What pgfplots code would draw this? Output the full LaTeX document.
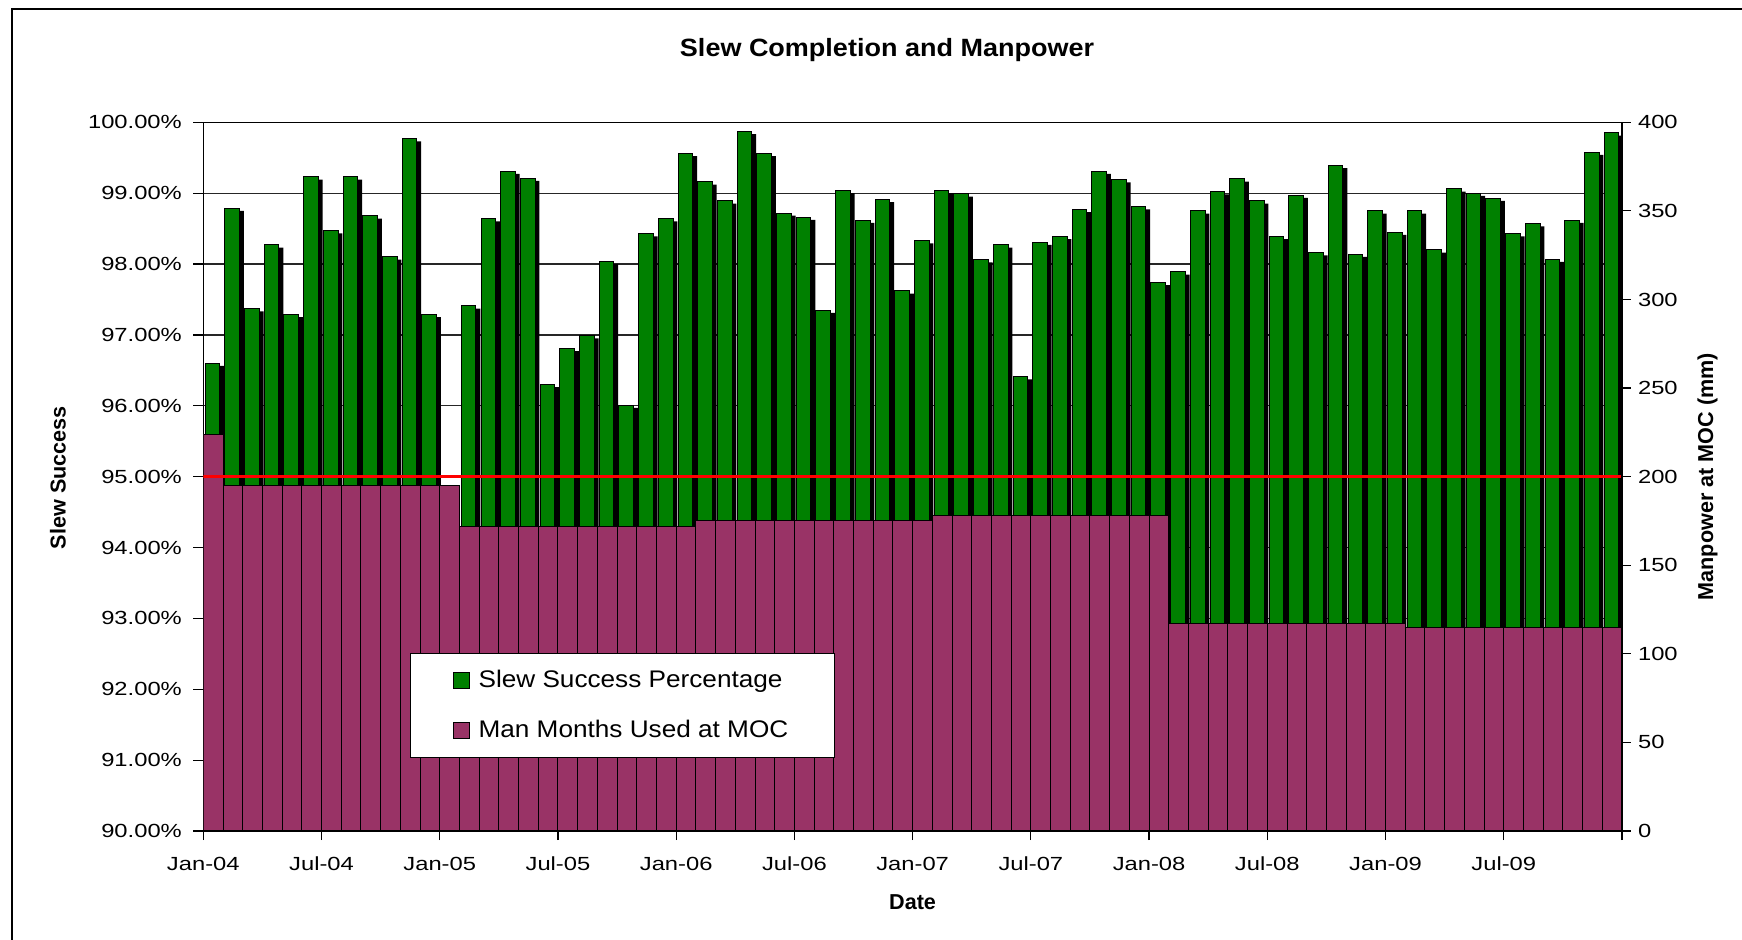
\documentclass[border=0pt]{standalone}
\usepackage{fontspec}
\setmainfont{Liberation Sans}
\newfontfamily\tickfont{Liberation Sans}[FakeStretch=1.25]
\newfontfamily\legfont{Liberation Sans}[FakeStretch=1.09]
\newfontfamily\titlefont{Liberation Sans}[FakeStretch=1.08]
\usepackage{pgfplots}
\usepackage{pgfplotstable}
\pgfplotsset{compat=1.18}
\usetikzlibrary{shadows}
\definecolor{slewgreen}{RGB}{0,128,0}
\definecolor{mmplum}{RGB}{153,51,102}

\pgfplotstableread{
x y
0.5 96.60
1.5 98.79
2.5 97.37
3.5 98.27
4.5 97.29
5.5 99.23
6.5 98.47
7.5 99.23
8.5 98.68
9.5 98.10
10.5 99.77
11.5 97.29
13.5 97.41
14.5 98.64
15.5 99.31
16.5 99.21
17.5 96.30
18.5 96.81
19.5 96.99
20.5 98.04
21.5 96.01
22.5 98.43
23.5 98.64
24.5 99.56
25.5 99.16
26.5 98.89
27.5 99.87
28.5 99.56
29.5 98.72
30.5 98.66
31.5 97.35
32.5 99.04
33.5 98.62
34.5 98.91
35.5 97.62
36.5 98.33
37.5 99.04
38.5 98.99
39.5 98.06
40.5 98.27
41.5 96.41
42.5 98.31
43.5 98.39
44.5 98.77
45.5 99.31
46.5 99.19
47.5 98.81
48.5 97.74
49.5 97.89
50.5 98.75
51.5 99.02
52.5 99.20
53.5 98.89
54.5 98.39
55.5 98.97
56.5 98.16
57.5 99.39
58.5 98.14
59.5 98.75
60.5 98.45
61.5 98.75
62.5 98.20
63.5 99.06
64.5 99.00
65.5 98.93
66.5 98.43
67.5 98.57
68.5 98.07
69.5 98.62
70.5 99.58
71.5 99.85
}\slewdata

\pgfplotstableread{
x y
0.5 224
1.5 195
2.5 195
3.5 195
4.5 195
5.5 195
6.5 195
7.5 195
8.5 195
9.5 195
10.5 195
11.5 195
12.5 195
13.5 172
14.5 172
15.5 172
16.5 172
17.5 172
18.5 172
19.5 172
20.5 172
21.5 172
22.5 172
23.5 172
24.5 172
25.5 175
26.5 175
27.5 175
28.5 175
29.5 175
30.5 175
31.5 175
32.5 175
33.5 175
34.5 175
35.5 175
36.5 175
37.5 178
38.5 178
39.5 178
40.5 178
41.5 178
42.5 178
43.5 178
44.5 178
45.5 178
46.5 178
47.5 178
48.5 178
49.5 117
50.5 117
51.5 117
52.5 117
53.5 117
54.5 117
55.5 117
56.5 117
57.5 117
58.5 117
59.5 117
60.5 117
61.5 115
62.5 115
63.5 115
64.5 115
65.5 115
66.5 115
67.5 115
68.5 115
69.5 115
70.5 115
71.5 115
}\mandata

\begin{document}
\begin{tikzpicture}
\useasboundingbox (0,0) rectangle (871pt,469.5pt);
\draw[line width=1pt] (6pt,-5pt) -- (6pt,464.8pt) -- (880pt,464.8pt);

\begin{axis}[
  scale only axis, width=709.35pt, height=354.35pt,
  at={(101.65pt,54pt)}, anchor=south west,
  xmin=0, xmax=72, ymin=90, ymax=100,
  enlargelimits=false,
  xtick=\empty,
  ytick={90,91,92,93,94,95,96,97,98,99,100},
  yticklabels={90.00\%,91.00\%,92.00\%,93.00\%,94.00\%,95.00\%,96.00\%,97.00\%,98.00\%,99.00\%,100.00\%},
  ytick pos=left,
  tick align=outside, major tick length=5pt,
  ymajorgrids, grid style={black!85, line width=0.6pt},
  axis line style={black, line width=0.6pt},
  tick style={black, line width=0.6pt},
  /pgf/number format/assume math mode=true,
  yticklabel style={font=\tickfont\fontsize{9.5}{11}\selectfont, xshift=-2.2pt},
]
\addplot[ybar, bar width=0.745, bar shift=-0.033, fill=slewgreen, draw=black, line width=0.5pt,
  drop shadow={shadow xshift=2.15pt, shadow yshift=-1.35pt, opacity=1, fill=black, draw=none}]
  table[x=x,y=y]{\slewdata};
\end{axis}

\begin{axis}[
  scale only axis, width=709.35pt, height=354.35pt,
  at={(101.65pt,54pt)}, anchor=south west,
  xmin=0, xmax=72, ymin=0, ymax=400,
  enlargelimits=false,
  axis x line*=bottom, axis y line*=right,
  xtick={0,6,12,18,24,30,36,42,48,54,60,66,72},
  xticklabels={Jan-04,Jul-04,Jan-05,Jul-05,Jan-06,Jul-06,Jan-07,Jul-07,Jan-08,Jul-08,Jan-09,Jul-09,{}},
  ytick={0,50,100,150,200,250,300,350,400},
  tick align=outside, major tick length=4.5pt,
  axis on top,
  x axis line style={black, line width=1.2pt},
  y axis line style={black, line width=0.6pt},
  tick style={black, line width=0.6pt},
  /pgf/number format/assume math mode=true,
  tick label style={font=\tickfont\fontsize{9.5}{11}\selectfont},
  xticklabel style={yshift=-5pt},
  legend style={at={(0.1457,0.2516)}, anchor=north west, draw=black, line width=0.6pt,
    fill=white, font=\legfont\fontsize{12}{14}\selectfont,
    inner xsep=21pt, inner ysep=6.4pt, row sep=11pt, column sep=2.5pt},
  legend cell align=left,
]
\addlegendimage{legend image code/.code={\draw[fill=slewgreen,draw=black,line width=0.5pt] (0pt,-4pt) rectangle (8pt,4pt);}}
\addlegendentry{Slew Success Percentage}
\addplot[ybar, bar width=1, fill=mmplum, draw=black, line width=0.5pt,
  legend image code/.code={\draw[fill=mmplum,draw=black,line width=0.5pt] (0pt,-4pt) rectangle (8pt,4pt);}]
  table[x=x,y=y]{\mandata};
\addlegendentry{Man Months Used at MOC}
\addplot[red, line width=1.7pt, forget plot] coordinates {(0,200) (72,200)};
\end{axis}

\node[font=\titlefont\bfseries\fontsize{12.5}{14}\selectfont] at (443.5pt,444.5pt) {Slew Completion and Manpower};
\node[font=\bfseries\fontsize{10.8}{13}\selectfont, rotate=90] at (28.9pt,230.65pt) {Slew Success};
\node[font=\bfseries\fontsize{10.8}{13}\selectfont, rotate=90] at (853.8pt,231.2pt) {Manpower at MOC (mm)};
\node[font=\bfseries\fontsize{10.8}{13}\selectfont] at (456.3pt,18.2pt) {Date};
\end{tikzpicture}
\end{document}
